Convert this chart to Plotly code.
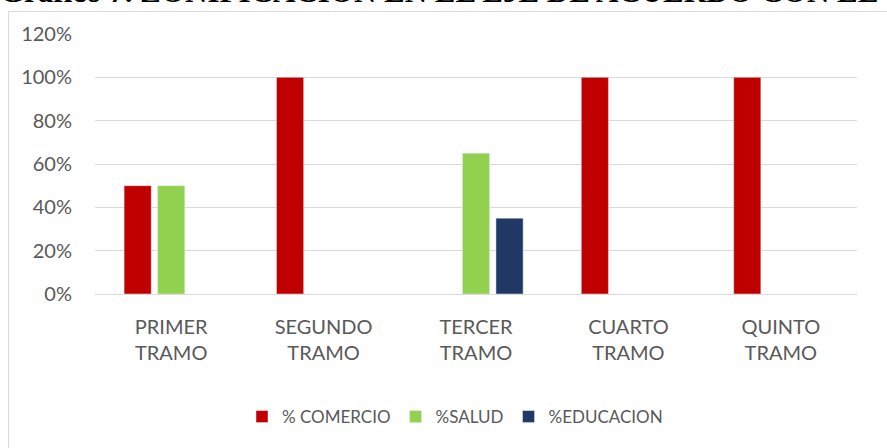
import plotly.graph_objects as go

categories = ["PRIMER<br>TRAMO", "SEGUNDO<br>TRAMO", "TERCER<br>TRAMO", "CUARTO<br>TRAMO", "QUINTO<br>TRAMO"]
comercio = [0.50, 1.00, None, 1.00, 1.00]
salud = [0.50, None, 0.65, None, None]
educacion = [None, None, 0.35, None, None]
y_ticks = [0, 0.2, 0.4, 0.6, 0.8, 1.0, 1.2]
title_text = "Gráfico 7. ZONIFICACION EN EL EJE DE ACUERDO CON EL"

W, H = 887, 448
ML, MR, MT, MB = 95, 30, 34, 154
PW, PH = W - ML - MR, H - MT - MB

def px_x(sx):
    return (sx - ML) / PW

def px_y(sy):
    return (H - MB - sy) / PH

FONT = "Lato"
GREY = "#595959"

fig = go.Figure()
fig.add_trace(go.Bar(name="% COMERCIO", x=categories, y=comercio, marker_color="#C00000"))
fig.add_trace(go.Bar(name="%SALUD", x=categories, y=salud, marker_color="#92D050"))
fig.add_trace(go.Bar(name="%EDUCACION", x=categories, y=educacion, marker_color="#1F3864"))

fig.update_layout(
    width=W, height=H,
    margin=dict(l=ML, r=MR, t=MT, b=MB),
    paper_bgcolor="white", plot_bgcolor="white",
    barmode="group", bargap=0.34, bargroupgap=0.19,
    font=dict(family=FONT, size=20, color=GREY),
    showlegend=True,
    legend=dict(orientation="h", x=px_x(455), xanchor="center", y=px_y(417), yanchor="middle",
                font=dict(family=FONT, size=17, color=GREY), traceorder="normal"),
    shapes=[dict(type="rect", xref="paper", yref="paper",
                 x0=px_x(8.5), x1=px_x(930), y0=px_y(490), y1=px_y(11.5),
                 line=dict(color="#D9D9D9", width=1), fillcolor="rgba(0,0,0,0)", layer="below")],
    annotations=[dict(text=title_text, xref="paper", yref="paper", x=px_x(880), xanchor="right",
                      y=px_y(11), yanchor="bottom", showarrow=False,
                      font=dict(family="Liberation Serif", size=31, color="black"))],
)
fig.update_xaxes(showline=True, linecolor="#D9D9D9", linewidth=1, ticks="", showgrid=False,
                 tickfont=dict(family=FONT, size=20, color=GREY), ticklabelstandoff=15)
fig.update_yaxes(range=[0, 1.2], tickvals=y_ticks, tickformat=".0%", showgrid=True,
                 gridcolor="#D9D9D9", gridwidth=1, zeroline=False, ticks="",
                 tickfont=dict(family=FONT, size=20, color=GREY), ticklabelstandoff=22)
fig.update_annotations(font_weight="bold")

fig.write_html("out.html", config={"displayModeBar": False},
               post_script="document.body.style.margin='0';")
